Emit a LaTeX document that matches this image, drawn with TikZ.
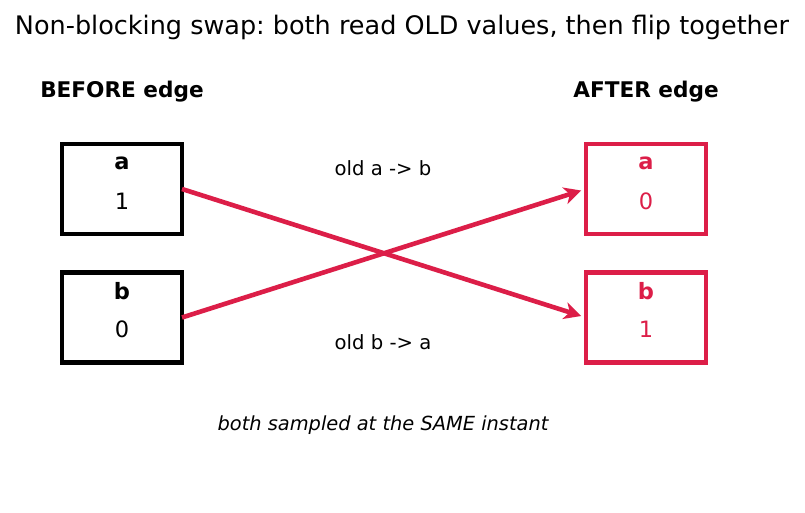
\documentclass[tikz,border=0pt]{standalone}
\usepackage{fontspec}
\setmainfont{DejaVu Sans}
\usetikzlibrary{arrows.meta}
\definecolor{crim}{RGB}{220,30,72}
\frenchspacing
\tikzset{
  x=1pt, y=-1pt,
  box/.style={draw, line width=4.6pt, minimum width=120pt, minimum height=90pt, inner sep=0pt, outer sep=0pt},
  var/.style={font=\fontsize{22.5}{26}\selectfont\bfseries, inner sep=0pt, anchor=center},
  val/.style={font=\fontsize{22.5}{26}\selectfont, inner sep=0pt, anchor=center},
  hdr/.style={font=\fontsize{21.6}{25}\selectfont\bfseries, inner sep=0pt, anchor=center},
  lbl/.style={font=\fontsize{19.6}{23}\selectfont, inner sep=0pt, anchor=center},
  swap/.style={draw=crim, line width=4.6pt, -{Stealth[length=17pt,width=17pt,inset=5pt]}, shorten >=5pt}
}
\begin{document}
\begin{tikzpicture}
\useasboundingbox (0,0) rectangle (805,512);
\node[font=\fontsize{25.5}{29}\selectfont, inner sep=0pt] (title) at (402,27) {Non-blocking swap: both read OLD values, then flip together};
\node[hdr] (before) at (122,92) {BEFORE edge};
\node[hdr] (after) at (646,92) {AFTER edge};

\node[box] (aL) at (122,189) {};
\node[box] (bL) at (122,317.5) {};
\node[box, draw=crim] (aR) at (646,189) {};
\node[box, draw=crim] (bR) at (646,317.5) {};

\node[var] (aLn) at (122,163) {a};
\node[val] (aLv) at (122,201) {1};
\node[var] (bLn) at (122,291) {b};
\node[val] (bLv) at (122,329) {0};
\node[var, text=crim] (aRn) at (646,163) {a};
\node[val, text=crim] (aRv) at (646,201) {0};
\node[var, text=crim] (bRn) at (646,291) {b};
\node[val, text=crim] (bRv) at (646,329) {1};

\draw[swap] (aL.east) -- (bR.west);
\draw[swap] (bL.east) -- (aR.west);

\node[lbl] (l1) at (383,168) {old a -> b};
\node[lbl] (l2) at (383,342) {old b -> a};
\node[lbl, font=\fontsize{19.4}{23}\selectfont\itshape] (note) at (383,425) {both sampled at the SAME instant};
\end{tikzpicture}
\end{document}
